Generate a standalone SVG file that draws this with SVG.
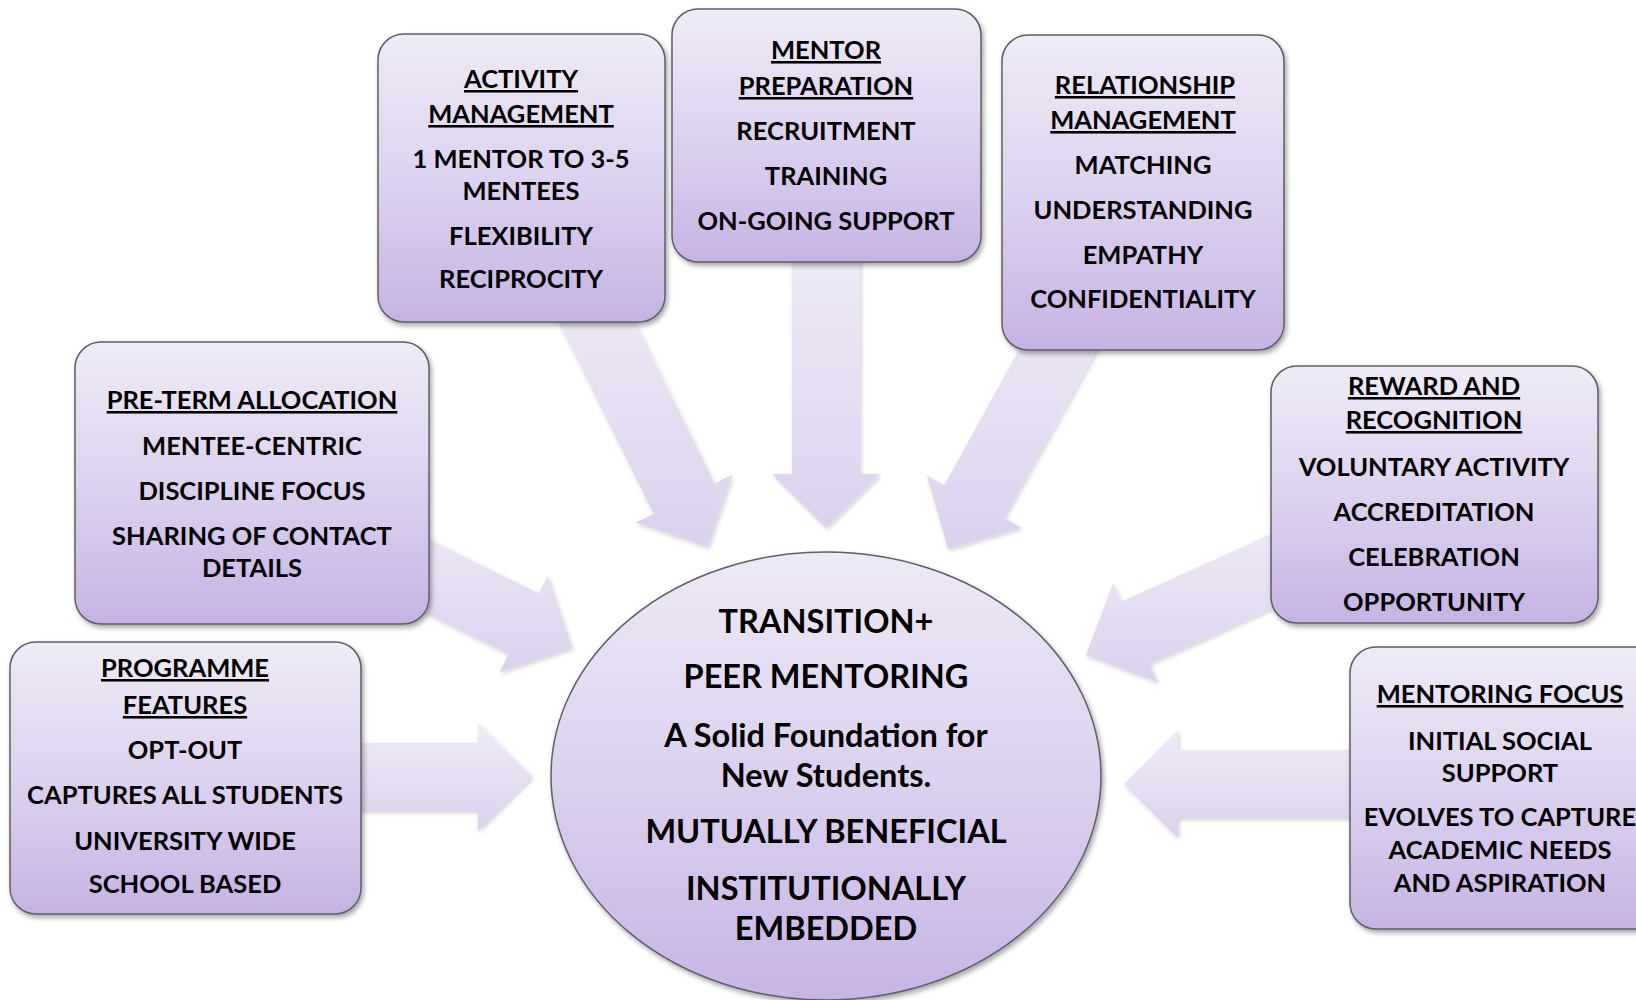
<svg xmlns="http://www.w3.org/2000/svg" width="1636" height="1000" viewBox="0 0 1636 1000">
<defs>
<linearGradient id="boxGrad" x1="0" y1="0" x2="0" y2="1">
<stop offset="0" stop-color="#efebf7"/>
<stop offset="0.5" stop-color="#ddd2ef"/>
<stop offset="1" stop-color="#c7b3e3"/>
</linearGradient>
<linearGradient id="ellGrad" x1="0" y1="0" x2="0" y2="1">
<stop offset="0" stop-color="#eee9f7"/>
<stop offset="0.5" stop-color="#dcd1ee"/>
<stop offset="1" stop-color="#c8b4e4"/>
</linearGradient>
<linearGradient id="arrGrad" x1="0" y1="0" x2="0" y2="1">
<stop offset="0" stop-color="#efebf7"/>
<stop offset="1" stop-color="#dcd1ee"/>
</linearGradient>
<filter id="shadow" x="-10%" y="-10%" width="125%" height="125%">
<feDropShadow dx="2" dy="3" stdDeviation="2.5" flood-color="#000" flood-opacity="0.35"/>
</filter>
<filter id="ashadow" x="-10%" y="-10%" width="125%" height="125%">
<feDropShadow dx="1.5" dy="2" stdDeviation="2" flood-color="#000" flood-opacity="0.18"/>
</filter>
</defs>
<style>
.box{fill:url(#boxGrad);stroke:#5e5e66;stroke-width:1.5;filter:url(#shadow)}
.arr{fill:url(#arrGrad);stroke:none;filter:url(#ashadow)}
.t{font-family:Lato,"Liberation Sans",sans-serif;font-weight:bold;font-size:25.5px;fill:#000;text-anchor:middle}
.u{text-decoration:underline}
.c{font-family:Lato,"Liberation Sans",sans-serif;font-weight:bold;font-size:32.5px;fill:#000;text-anchor:middle}
</style>
<rect width="1636" height="1000" fill="#ffffff"/>
<g id="connectors">
<path class="arr" d="M330,743 H478 V723 L532,777 L478,831 V811 H330 Z"/>
<path class="arr" d="M1400,750 H1178 V730 L1124,784 L1178,838 V818 H1400 Z"/>
<path class="arr" d="M792,240 V474 H772 L826,528 L880,474 H860 V240 Z"/>
<path class="arr" d="M544.4,293.2 L653.5,513.7 L635.6,522.6 L708,547 L732.4,474.6 L714.5,483.5 L605.4,263 Z"/>
<path class="arr" d="M1063,269.9 L944.3,485.3 L926.8,475.6 L948,549 L1021.4,527.8 L1003.9,518.1 L1122.6,302.7 Z"/>
<path class="arr" d="M354.3,501.8 L538.8,593.5 L547.8,575.6 L572,648 L499.6,672.2 L508.6,654.3 L324.1,562.6 Z"/>
<path class="arr" d="M1309,517.1 L1121.2,601.8 L1113,583.6 L1086,655 L1157.4,682 L1149.2,663.8 L1337,579.1 Z"/>
</g>
<g id="activity-management">
<rect class="box" x="378" y="34" width="287" height="288" rx="26"/>
<text class="t u" x="521" y="88">ACTIVITY</text>
<text class="t u" x="521" y="123">MANAGEMENT</text>
<text class="t" x="521" y="168">1 MENTOR TO 3-5</text>
<text class="t" x="521" y="200">MENTEES</text>
<text class="t" x="521" y="245">FLEXIBILITY</text>
<text class="t" x="521" y="288">RECIPROCITY</text>
</g>
<g id="mentor-preparation">
<rect class="box" x="672" y="9" width="309" height="253" rx="26"/>
<text class="t u" x="826" y="59">MENTOR</text>
<text class="t u" x="826" y="95">PREPARATION</text>
<text class="t" x="826" y="140">RECRUITMENT</text>
<text class="t" x="826" y="185">TRAINING</text>
<text class="t" x="826" y="230">ON-GOING SUPPORT</text>
</g>
<g id="relationship-management">
<rect class="box" x="1002" y="35" width="282" height="315" rx="26"/>
<text class="t u" x="1145" y="94">RELATIONSHIP</text>
<text class="t u" x="1143" y="129">MANAGEMENT</text>
<text class="t" x="1143" y="174">MATCHING</text>
<text class="t" x="1143" y="219">UNDERSTANDING</text>
<text class="t" x="1143" y="264">EMPATHY</text>
<text class="t" x="1143" y="308">CONFIDENTIALITY</text>
</g>
<g id="pre-term-allocation">
<rect class="box" x="75" y="342" width="354" height="282" rx="26"/>
<text class="t u" x="252" y="409">PRE-TERM ALLOCATION</text>
<text class="t" x="252" y="455">MENTEE-CENTRIC</text>
<text class="t" x="252" y="500">DISCIPLINE FOCUS</text>
<text class="t" x="252" y="545">SHARING OF CONTACT</text>
<text class="t" x="252" y="577">DETAILS</text>
</g>
<g id="reward-and-recognition">
<rect class="box" x="1271" y="366" width="327" height="257" rx="26"/>
<text class="t u" x="1434" y="395">REWARD AND</text>
<text class="t u" x="1434" y="429">RECOGNITION</text>
<text class="t" x="1434" y="476">VOLUNTARY ACTIVITY</text>
<text class="t" x="1434" y="521">ACCREDITATION</text>
<text class="t" x="1434" y="566">CELEBRATION</text>
<text class="t" x="1434" y="611">OPPORTUNITY</text>
</g>
<g id="programme-features">
<rect class="box" x="10" y="642" width="351" height="272" rx="26"/>
<text class="t u" x="185" y="677">PROGRAMME</text>
<text class="t u" x="185" y="714">FEATURES</text>
<text class="t" x="185" y="759">OPT-OUT</text>
<text class="t" x="185" y="804">CAPTURES ALL STUDENTS</text>
<text class="t" x="185" y="850">UNIVERSITY WIDE</text>
<text class="t" x="185" y="893">SCHOOL BASED</text>
</g>
<g id="mentoring-focus">
<rect class="box" x="1350" y="647" width="320" height="282" rx="26"/>
<text class="t u" x="1500" y="703">MENTORING FOCUS</text>
<text class="t" x="1500" y="750">INITIAL SOCIAL</text>
<text class="t" x="1500" y="782">SUPPORT</text>
<text class="t" x="1500" y="826">EVOLVES TO CAPTURE</text>
<text class="t" x="1500" y="859">ACADEMIC NEEDS</text>
<text class="t" x="1500" y="892">AND ASPIRATION</text>
</g>
<g id="center">
<ellipse cx="826" cy="776" rx="275" ry="224" fill="url(#ellGrad)" stroke="#5e5e66" stroke-width="1.5" filter="url(#shadow)"/>
<text class="c" x="826" y="633">TRANSITION+</text>
<text class="c" x="826" y="688">PEER MENTORING</text>
<text class="c" x="826" y="747">A Solid Foundation for</text>
<text class="c" x="826" y="787">New Students.</text>
<text class="c" x="826" y="843">MUTUALLY BENEFICIAL</text>
<text class="c" x="826" y="900">INSTITUTIONALLY</text>
<text class="c" x="826" y="940">EMBEDDED</text>
</g>
</svg>
